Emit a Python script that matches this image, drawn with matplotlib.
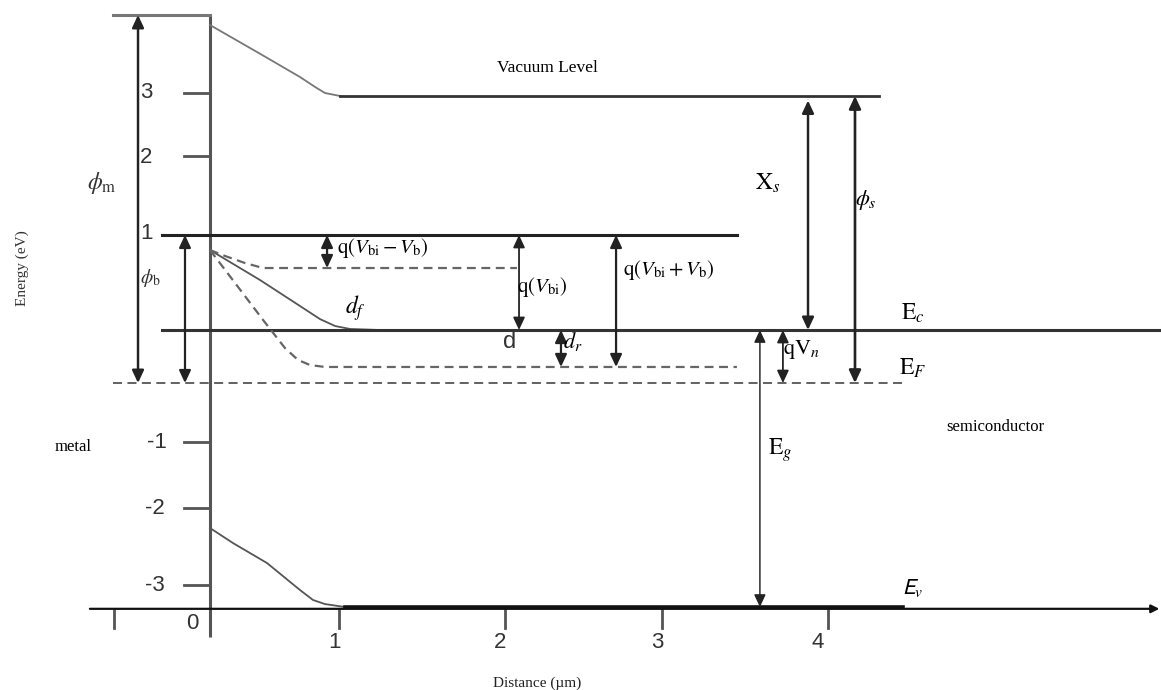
import matplotlib
matplotlib.use("Agg")
import matplotlib.pyplot as plt

plt.rcParams['mathtext.fontset'] = 'stix'

# ---------------- data (x in um, energy in eV; Ec = 0) ----------------
x_left, x_right = -1.105, 6.062
e_bottom, e_top = -4.235, 3.882

interface_x = 0.19
axis_top, axis_bottom = 3.706, -3.61
xaxis_e, xaxis_start = -3.28, -0.55

metal_top_e = 3.706
metal_top_x0 = -0.41

vac_curve_x = [0.191, 0.500, 0.747, 0.840, 0.901, 0.994]
vac_curve_e = [3.588, 3.250, 2.976, 2.859, 2.788, 2.753]
vac_level_e = 2.753
vac_level_x = [0.994, 4.321]

ec_curve_x = [0.191, 0.500, 0.747, 0.870, 0.963, 1.056, 1.240]
ec_curve_e = [0.941, 0.588, 0.282, 0.129, 0.047, 0.012, 0.0]
ec_level_x = [-0.105, 6.062]

one_level_e = 1.118
one_level_x = [-0.105, 3.444]

fwd_curve_x = [0.191, 0.284, 0.407, 0.519, 0.623, 2.086]
fwd_curve_e = [0.941, 0.871, 0.788, 0.729, 0.729, 0.729]

rev_curve_x = [0.191, 0.346, 0.519, 0.654, 0.735, 0.809, 0.901, 3.444]
rev_curve_e = [0.941, 0.553, 0.118, -0.212, -0.353, -0.412, -0.435, -0.435]

ef_e = -0.624
ef_x = [-0.407, 4.469]

val_curve_x = [0.191, 0.333, 0.543, 0.747, 0.827, 0.901, 1.025]
val_curve_e = [-2.329, -2.506, -2.741, -3.059, -3.176, -3.224, -3.259]
val_level_e = -3.259
val_level_x = [1.025, 4.469]

# y-axis ticks (positions as drawn) and labels
ytick_e = [2.788, 2.047, -1.318, -2.094, -3.0]
ytick_x0 = 0.03
ylab_e = [2.788, 2.035, 1.141, -1.318, -2.094, -3.0]
ylab_x = [-0.204, -0.204, -0.198, -0.136, -0.148, -0.148]
ylab_txt = ['3', '2', '1', '-1', '-2', '-3']

# x-axis ticks
xtick_x = [-0.40, 0.988, 2.012, 2.98, 4.006]
xtick_len_e = -3.50
xlab_x = [0.08, 0.957, 1.981, 2.951, 3.944]
xlab_e = [-3.447, -3.682, -3.682, -3.682, -3.682]
xlab_txt = ['0', '1', '2', '3', '4']

# double arrows: (x, e_from, e_to, linewidth)
arrows = [
    (-0.253, 3.706, -0.624, 2.2),   # phi_m
    (0.037, 1.118, -0.624, 2.0),    # phi_b
    (0.914, 1.118, 0.729, 2.0),     # q(Vbi - Vb)
    (2.099, 1.118, 0.0, 1.6),       # q(Vbi)
    (2.698, 1.118, -0.435, 2.0),    # q(Vbi + Vb)
    (2.358, 0.0, -0.435, 2.0),      # d_r
    (3.883, 2.70, 0.0, 2.2),        # X_s
    (4.173, 2.753, -0.624, 2.4),    # phi_s
    (3.586, 0.0, -3.259, 1.3),      # E_g
    (3.728, 0.0, -0.624, 1.6),      # qV_n
]

# ---------------- drawing ----------------
fig = plt.figure(figsize=(11.61, 6.90), dpi=100)
ax = fig.add_axes([0, 0, 1, 1])
ax.set_xlim(x_left, x_right)
ax.set_ylim(e_bottom, e_top)
ax.axis('off')

lc = '#333333'
cc = '#555555'

# y axis (interface) and metal top
ax.plot([interface_x, interface_x], [axis_bottom, axis_top], color=cc, lw=2.2,
        solid_capstyle='butt')
ax.plot([metal_top_x0, interface_x], [metal_top_e, metal_top_e], color='#777777',
        lw=2.2)

# x axis with arrow
ax.annotate('', xy=(x_right - 0.01, xaxis_e), xytext=(xaxis_start, xaxis_e),
            arrowprops=dict(arrowstyle='-|>', color='#111111', lw=1.6,
                            mutation_scale=12, shrinkA=0, shrinkB=0))

# vacuum level
ax.plot(vac_curve_x, vac_curve_e, color='#777777', lw=1.3,
        solid_joinstyle='round')
ax.plot(vac_level_x, [vac_level_e, vac_level_e], color=lc, lw=2.0)

# conduction band / levels
ax.plot(ec_curve_x, ec_curve_e, color='#555555', lw=1.3,
        solid_joinstyle='round')
ax.plot(ec_level_x, [0, 0], color=lc, lw=2.2)
ax.plot(one_level_x, [one_level_e, one_level_e], color='#222222', lw=2.2)

# forward / reverse bias (dashed)
ax.plot(fwd_curve_x, fwd_curve_e, color='#666666', lw=1.6, ls=(0, (4, 2.5)))
ax.plot(rev_curve_x, rev_curve_e, color='#666666', lw=1.6, ls=(0, (4, 2.5)))

# Fermi level
ax.plot(ef_x, [ef_e, ef_e], color='#555555', lw=1.3, ls=(0, (5, 3)))

# valence band
ax.plot(val_curve_x, val_curve_e, color='#555555', lw=1.3,
        solid_joinstyle='round')
ax.plot(val_level_x, [val_level_e, val_level_e], color='#111111', lw=2.6)

# y ticks
for e in ytick_e:
    ax.plot([ytick_x0, interface_x], [e, e], color=cc, lw=2.0)
for x, e, t in zip(ylab_x, ylab_e, ylab_txt):
    ax.text(x, e, t, ha='center', va='center', fontsize=16,
            family='Liberation Sans', color='#333333')

# x ticks
for x in xtick_x:
    ax.plot([x, x], [xaxis_e, xtick_len_e], color=cc, lw=2.0)
for x, e, t in zip(xlab_x, xlab_e, xlab_txt):
    ax.text(x, e, t, ha='center', va='center', fontsize=16,
            family='Liberation Sans', color='#333333')

# arrows
for x, e0, e1, w in arrows:
    ax.annotate('', xy=(x, e1), xytext=(x, e0),
                arrowprops=dict(arrowstyle='<|-|>,head_length=0.75,head_width=0.35',
                                color='#222222', lw=w * 0.8,
                                mutation_scale=10, shrinkA=0, shrinkB=0))

# texts
serif = 'Liberation Serif'
ax.text(2.272, 3.082, 'Vacuum Level', ha='center', va='center', fontsize=12.5,
        family=serif)
ax.text(-0.475, 1.729, r'$\phi_{\mathrm{m}}$', ha='center', va='center',
        fontsize=17, color='#333333')
ax.text(-0.179, 0.612, r'$\phi_{\mathrm{b}}$', ha='center', va='center',
        fontsize=14, color='#333333')
ax.text(-0.654, -1.376, 'metal', ha='center', va='center', fontsize=12,
        family=serif)
ax.text(-0.969, 0.729, 'Energy (eV)', ha='center', va='center', fontsize=11,
        family=serif, rotation=90, color='#333333')
ax.text(2.21, -4.153, 'Distance (µm)', ha='center', va='center', fontsize=11,
        family=serif, color='#222222')
ax.text(3.636, 1.729, r'$\mathrm{X}_s$', ha='center', va='center', fontsize=17)
ax.text(4.241, 1.529, r'$\phi_s$', ha='center', va='center', fontsize=16)
ax.text(4.531, 0.20, r'$\mathrm{E}_c$', ha='center', va='center', fontsize=17)
ax.text(4.531, -0.447, r'$\mathrm{E}_F$', ha='center', va='center', fontsize=17)
ax.text(5.037, -1.141, 'semiconductor', ha='center', va='center', fontsize=12,
        family=serif)
ax.text(3.71, -1.412, r'$\mathrm{E}_g$', ha='center', va='center', fontsize=17)
ax.text(3.73, -0.235, r'$\mathrm{qV}_n$', ha='left', va='center', fontsize=16)
ax.text(4.531, -3.035, r'$\mathsf{E}_v$', ha='center', va='center', fontsize=16)
ax.text(0.975, 0.965, r'$\mathrm{q}(V_{\mathrm{bi}} - V_{\mathrm{b}})$',
        ha='left', va='center', fontsize=15)
ax.text(2.086, 0.506, r'$\mathrm{q}(V_{\mathrm{bi}})$', ha='left',
        va='center', fontsize=15)
ax.text(2.741, 0.706, r'$\mathrm{q}(V_{\mathrm{bi}} + V_{\mathrm{b}})$',
        ha='left', va='center', fontsize=15)
ax.text(1.086, 0.259, r'$d_f$', ha='center', va='center', fontsize=17)
ax.text(2.043, -0.141, 'd', ha='center', va='center', fontsize=17,
        family='Liberation Sans', color='#333333')
ax.text(2.37, -0.141, r'$d_r$', ha='left', va='center', fontsize=16)

fig.savefig('out.png', dpi=100)
